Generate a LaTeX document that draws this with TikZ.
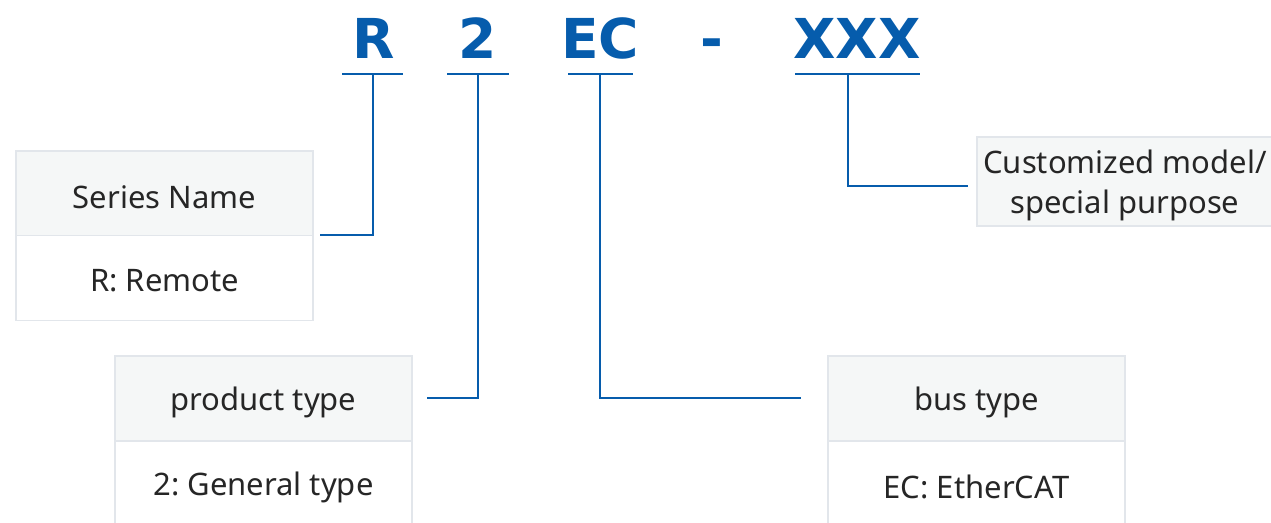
\documentclass[tikz,border=0pt]{standalone}
\usepackage{fontspec}
\setmainfont{Noto Sans}
\newfontfamily\codefont{DejaVu Sans}
\frenchspacing
\definecolor{brand}{RGB}{6,92,172}
\definecolor{hdr}{RGB}{245,247,247}
\definecolor{edge}{RGB}{226,230,235}
\definecolor{ink}{RGB}{38,38,38}
\begin{document}
\begin{tikzpicture}[x=1pt,y=-1pt,
  cell/.style={draw=edge, line width=1.5pt, minimum width=297pt, minimum height=85pt, inner sep=0pt},
  hcell/.style={cell, fill=hdr},
  bcell/.style={cell, fill=white},
  lbl/.style={text=ink, font=\fontsize{31}{40}\selectfont, inner sep=0pt, align=center},
  code/.style={text=brand, font=\codefont\bfseries\fontsize{55}{60}\selectfont, anchor=base, inner sep=0pt},
  uline/.style={draw=brand, line width=2.7pt},
  conn/.style={draw=brand, line width=2.7pt}]
\useasboundingbox (0,0) rectangle (1271,522);
% code letters
\node[code] (cR) at (374,58) {R};
\node[code] (c2) at (478,58) {2};
\node[code] (cEC) at (600,58) {EC};
\node[code] (cD) at (712,58) {-};
\node[code] (cX) at (857,58) {XXX};
% underlines
\coordinate (uRa) at (342,74); \coordinate (uRb) at (403,74); \coordinate (uR) at (373,74);
\coordinate (u2a) at (447,74); \coordinate (u2b) at (509,74); \coordinate (u2) at (478,74);
\coordinate (uECa) at (568,74); \coordinate (uECb) at (633,74); \coordinate (uEC) at (600,74);
\coordinate (uXa) at (795,74); \coordinate (uXb) at (920,74); \coordinate (uX) at (848,74);
\draw[uline] (uRa) -- (uRb);
\draw[uline] (u2a) -- (u2b);
\draw[uline] (uECa) -- (uECb);
\draw[uline] (uXa) -- (uXb);
% boxes
\node[hcell] (snh) at (164.5,193.5) {};
\node[bcell] (snb) at (164.5,278) {};
\node[hcell] (pth) at (263.5,398.5) {};
\node[bcell, minimum height=100pt] (ptb) at (263.5,491) {};
\node[hcell] (bth) at (976.5,398.5) {};
\node[bcell, minimum height=100pt] (btb) at (976.5,491) {};
\node[hcell, minimum width=296pt, minimum height=89pt] (cm) at (1125,181.5) {};
% labels
\node[lbl] (snht) at (164.5,197) {Series Name};
\node[lbl] (snbt) at (164.5,281) {R: Remote};
\node[lbl] (ptht) at (263.5,402) {product type};
\node[lbl] (ptbt) at (263.5,487) {2: General type};
\node[lbl] (btht) at (976.5,402) {bus type};
\node[lbl] (btbt) at (976.5,487) {EC: EtherCAT};
\node[lbl] (cmt) at (1125,185) {Customized model/\\special purpose};
% connectors
\coordinate (eR) at (320,235);
\coordinate (e2) at (427,398);
\coordinate (eEC) at (801,398);
\coordinate (eX) at (968,186);
\draw[conn] (uR) |- (eR);
\draw[conn] (u2) |- (e2);
\draw[conn] (uEC) |- (eEC);
\draw[conn] (uX) |- (eX);
\end{tikzpicture}
\end{document}
